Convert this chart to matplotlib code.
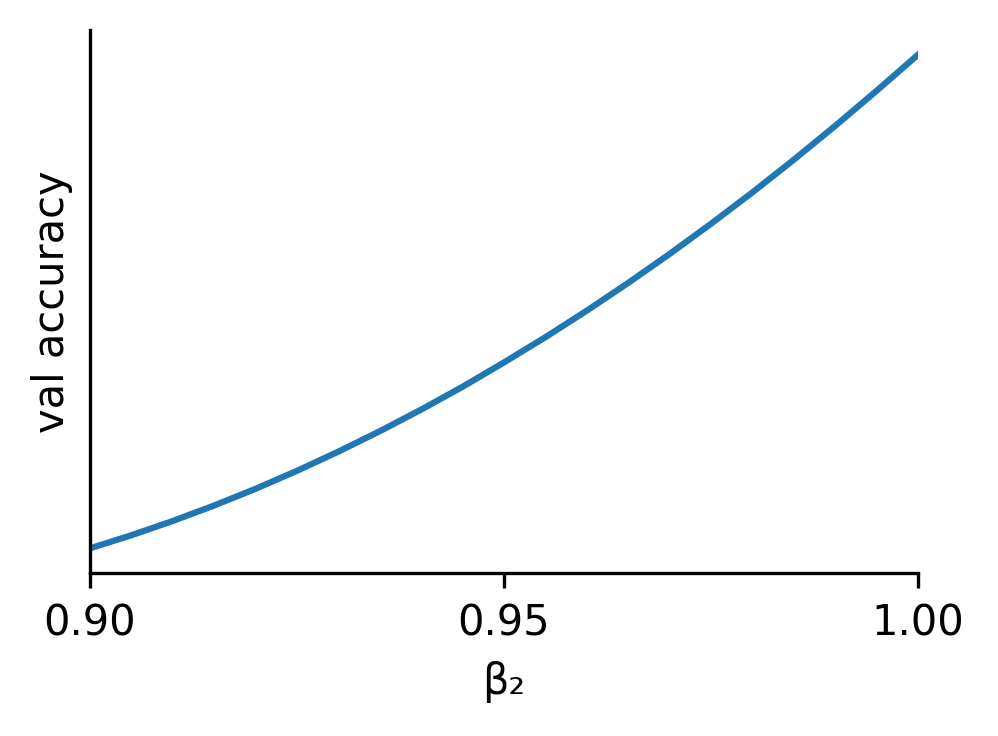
import numpy as np
import matplotlib
matplotlib.use("Agg")
import matplotlib.pyplot as plt

# beta2 values and the (unitless) validation accuracy
beta2 = [0.900, 0.905, 0.910, 0.915, 0.920, 0.925, 0.930, 0.935, 0.940, 0.945, 0.950,
         0.955, 0.960, 0.965, 0.970, 0.975, 0.980, 0.985, 0.990, 0.995, 1.000]
val_acc = [0.263, 0.393, 0.535, 0.689, 0.855, 1.034, 1.225, 1.428, 1.643, 1.870, 2.112,
           2.363, 2.627, 2.903, 3.191, 3.491, 3.803, 4.128, 4.465, 4.814, 5.173]
xticks = [0.90, 0.95, 1.00]

fig = plt.figure(figsize=(9.98 / 3, 7.36 / 3), dpi=300)
ax = fig.add_axes([90 / 998, 163 / 736, 828 / 998, 543 / 736])

ax.plot(beta2, val_acc, color="#1f77b4", linewidth=1.5)

ax.set_xlim(0.90, 1.00)
ax.set_xticks(xticks)
ax.set_xticklabels(["%.2f" % t for t in xticks])
ax.set_yticks([])
ax.spines["top"].set_visible(False)
ax.spines["right"].set_visible(False)

ax.set_xlabel("β₂")
ax.set_ylabel("val accuracy")

fig.savefig("out.png", dpi=300)
